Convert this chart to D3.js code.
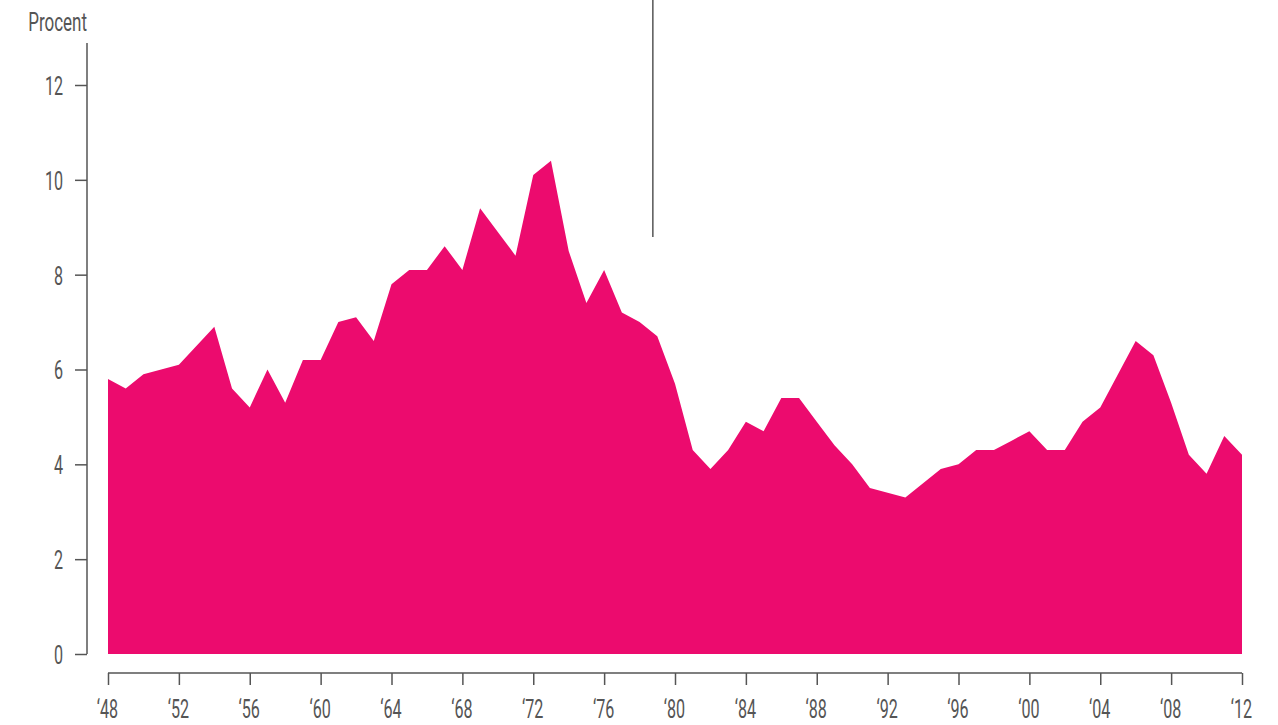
<!DOCTYPE html>
<html>
<head>
<meta charset="utf-8">
<script src="https://cdn.jsdelivr.net/npm/d3@7"></script>
<style>
  html, body { margin: 0; padding: 0; background: #fff; }
  svg text { font-family: Roboto, "Liberation Sans", sans-serif; font-weight: 400; fill: #555; }
</style>
</head>
<body>
<svg id="chart" width="1278" height="725"></svg>
<script>
// Yearly values, 1948–2012 (percent)
const years = d3.range(1948, 2013);
const values = [
  5.8, 5.6, 5.9, 6.0, 6.1, 6.5, 6.9, 5.6, 5.2, 6.0,
  5.3, 6.2, 6.2, 7.0, 7.1, 6.6, 7.8, 8.1, 8.1, 8.6,
  8.1, 9.4, 8.9, 8.4, 10.1, 10.4, 8.5, 7.4, 8.1, 7.2,
  7.0, 6.7, 5.7, 4.3, 3.9, 4.3, 4.9, 4.7, 5.4, 5.4,
  4.9, 4.4, 4.0, 3.5, 3.4, 3.3, 3.6, 3.9, 4.0, 4.3,
  4.3, 4.5, 4.7, 4.3, 4.3, 4.9, 5.2, 5.9, 6.6, 6.3,
  5.3, 4.2, 3.8, 4.6, 4.2
];
const yTicks = [0, 2, 4, 6, 8, 10, 12];
const xTicks = d3.range(1948, 2013, 4);
const yLabel = "Procent";
const markerYear = 1978.75;

// Horizontal squeeze used to give the labels a condensed look
const SQ = 0.62;
const FS = 26;

const svg = d3.select("#chart");
const x = d3.scaleLinear().domain([1948, 2012]).range([108, 1242]);
const y = d3.scaleLinear().domain([0, 12]).range([654, 85]);

const data = years.map((yr, i) => ({ yr, v: values[i] }));

// Filled area
const area = d3.area()
  .x(d => x(d.yr))
  .y0(y(0))
  .y1(d => y(d.v));
svg.append("path")
  .datum(data)
  .attr("d", area)
  .attr("fill", "#EC0B6E");

// Y axis
const yAxis = d3.axisLeft(y).tickValues(yTicks).tickSize(12).tickPadding(12).tickSizeOuter(0);
const gy = svg.append("g").attr("transform", "translate(87,0)").call(yAxis);
gy.select(".domain").remove();
gy.append("line")
  .attr("x1", 0).attr("x2", 0)
  .attr("y1", 43).attr("y2", y(0))
  .attr("stroke", "#555").attr("stroke-width", 1.5);
gy.selectAll(".tick line").attr("stroke", "#555").attr("stroke-width", 1.5);
gy.selectAll(".tick text")
  .attr("font-size", FS).attr("fill", "#555").attr("dy", "0.36em")
  .attr("x", -24 / SQ)
  .attr("transform", `scale(${SQ},1)`)
  .style("font-family", "Roboto, 'Liberation Sans', sans-serif")
  .style("font-weight", 400);

svg.append("text")
  .attr("transform", `translate(87,31) scale(0.68,1)`)
  .attr("text-anchor", "end")
  .attr("font-size", 25)
  .text(yLabel);

// X axis
const xAxis = d3.axisBottom(x).tickValues(xTicks).tickSize(12).tickPadding(14).tickSizeOuter(0)
  .tickFormat(d => "\u2018" + String(d % 100).padStart(2, "0"));
const gx = svg.append("g").attr("transform", "translate(0,673)").call(xAxis);
gx.select(".domain").attr("stroke", "#555").attr("stroke-width", 1.5)
  .attr("d", `M${x(1948)},0H${x(2012)}`);
gx.selectAll(".tick line").attr("stroke", "#555").attr("stroke-width", 1.5);
gx.selectAll(".tick text")
  .attr("font-size", FS).attr("fill", "#555")
  .attr("y", null).attr("dy", null)
  .attr("transform", `translate(-1,45) scale(${SQ},1)`)
  .style("font-family", "Roboto, 'Liberation Sans', sans-serif")
  .style("font-weight", 400);

// Vertical marker line
svg.append("line")
  .attr("x1", x(markerYear)).attr("x2", x(markerYear))
  .attr("y1", 0).attr("y2", 237)
  .attr("stroke", "#555").attr("stroke-width", 1.5);
</script>
</body>
</html>
